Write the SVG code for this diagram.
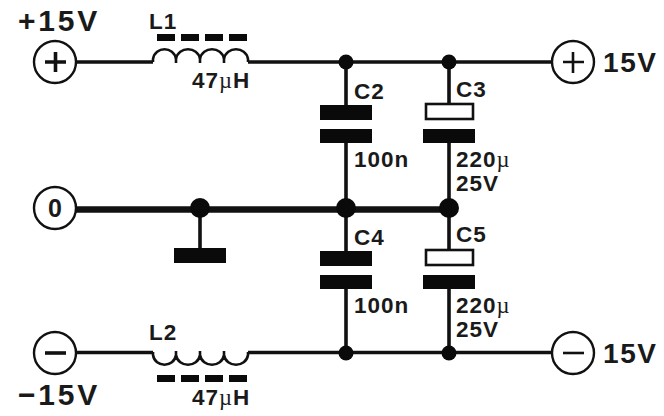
<svg xmlns="http://www.w3.org/2000/svg" width="664" height="416" viewBox="0 0 664 416">
<style>
.w{fill:none;stroke:#111;stroke-width:3.6}
.t{fill:none;stroke:#111;stroke-width:2.6}
.g{stroke-width:6.5}
.p{fill:#0a0a0a}
.o{fill:#fff;stroke:#111;stroke-width:2.4}
.s{fill:none;stroke:#111;stroke-width:3.6}
.n{fill:none;stroke:#111;stroke-width:2.6}
.h{fill:#fff;stroke:#111;stroke-width:2.6}
text{font-family:"Liberation Sans",Arial,sans-serif;font-weight:700;fill:#1a1a1a}
.l{font-size:22.5px;letter-spacing:1px}
.b{font-size:30px;letter-spacing:2.8px}
.v{font-size:28px;letter-spacing:1.6px}
.m{font-family:"Liberation Serif",serif;font-weight:400}
</style>
<g id="connectors">
<path class="w" d="M76 62H153M248 62H552"/>
<path class="w" d="M76 352.500H153M248 352.500H552"/>
<path class="w g" d="M76 209.500H449"/>
<path class="w" d="M346 62V106M346 143V252M346 289V352M449 62V104M449 143V250M449 289V352"/>
<path class="w" d="M200 208V248"/>
</g>
<g id="L1">
<path class="t" d="M153 62V59C155 46 174 46 176 59V63M176 59C178 46 198 46 200 59V63M200 59C202 46 222 46 224 59V63M224 59C226 46 246 46 248 59V62"/>
<g class="p"><rect x="157" y="34" width="18" height="7"/><rect x="181" y="34" width="18" height="7"/><rect x="205" y="34" width="18" height="7"/><rect x="229" y="34" width="18" height="7"/></g>
<text class="l" x="149" y="29">L1</text>
<text class="l" x="192" y="88">47<tspan class="m">µ</tspan>H</text>
</g>
<g id="L2">
<path class="t" d="M153 352V355C155 368 174 368 176 355V351M176 355C178 368 198 368 200 355V351M200 355C202 368 222 368 224 355V351M224 355C226 368 246 368 248 355V352"/>
<g class="p"><rect x="157" y="375" width="18" height="7"/><rect x="181" y="375" width="18" height="7"/><rect x="205" y="375" width="18" height="7"/><rect x="229" y="375" width="18" height="7"/></g>
<text class="l" x="149" y="340">L2</text>
<text class="l" x="192" y="405">47<tspan class="m">µ</tspan>H</text>
</g>
<g id="C2">
<rect class="p" x="320" y="105" width="52" height="15"/><rect class="p" x="320" y="129" width="52" height="14"/>
<text class="l" x="354" y="99">C2</text><text class="l" x="354" y="167">100n</text>
</g>
<g id="C3">
<rect class="h" x="426" y="104" width="47" height="15"/><rect class="p" x="423" y="129" width="52" height="14"/>
<text class="l" x="456" y="97">C3</text><text class="l" x="456" y="167">220<tspan class="m">µ</tspan></text><text class="l" x="456" y="191">25V</text>
</g>
<g id="C4">
<rect class="p" x="320" y="251" width="52" height="15"/><rect class="p" x="320" y="275" width="52" height="14"/>
<text class="l" x="354" y="245">C4</text><text class="l" x="354" y="313">100n</text>
</g>
<g id="C5">
<rect class="h" x="426" y="250" width="47" height="15"/><rect class="p" x="423" y="275" width="52" height="14"/>
<text class="l" x="456" y="242">C5</text><text class="l" x="456" y="313">220<tspan class="m">µ</tspan></text><text class="l" x="456" y="337">25V</text>
</g>
<g id="ground"><rect class="p" x="174" y="248" width="52" height="15"/></g>
<g id="dots" class="p">
<circle cx="346" cy="62" r="7.500"/><circle cx="449" cy="62" r="7.500"/>
<circle cx="200" cy="208" r="10"/><circle cx="346" cy="208" r="10"/><circle cx="449" cy="208" r="10"/>
<circle cx="346" cy="353" r="7.500"/><circle cx="449" cy="353" r="7.500"/>
</g>
<g id="in-plus"><circle class="o" cx="55" cy="62" r="21"/><path class="s" d="M45 62H66M55.500 52V72"/><text class="b" x="18" y="31">+15V</text></g>
<g id="in-zero"><circle class="o" cx="55" cy="208" r="21"/><text x="55" y="217" text-anchor="middle" style="font-size:25px">0</text></g>
<g id="in-minus"><circle class="o" cx="55" cy="353" r="21"/><path class="s" d="M45 353H66"/><text class="b" x="18" y="405">−15V</text></g>
<g id="out-plus"><circle class="o" cx="573" cy="62" r="21"/><path class="n" d="M563 62H584M573 52V73"/><text class="v" x="603" y="72">15V</text></g>
<g id="out-minus"><circle class="o" cx="573" cy="353" r="21"/><path class="n" d="M563 353H584"/><text class="v" x="603" y="363">15V</text></g>
</svg>
